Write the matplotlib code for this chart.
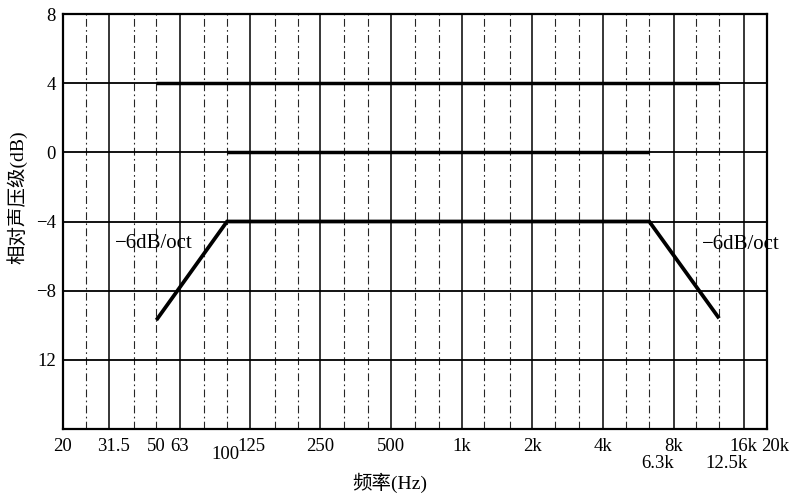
# 倍频程频率响应容差曲线 (relative sound pressure level vs frequency)
import matplotlib
matplotlib.use("Agg")
import matplotlib.pyplot as plt
import matplotlib.transforms as mtrans

SERIF = ['Liberation Serif', 'Noto Sans CJK SC']

# octave centre lines (solid) and the third-octave lines between them (broken)
octave_freqs = [31.5, 63, 125, 250, 500, 1000, 2000, 4000, 8000, 16000]
third_freqs = [25, 40, 50, 80, 100, 160, 200, 315, 400, 630, 800, 1250, 1600,
               2500, 3150, 5000, 6300, 10000, 12500]

# level grid
level_ticks = [8, 4, 0, -4, -8, -12]
level_labels = ['8', '4', '0', '\u22124', '\u22128', '12']

# frequency labels, first row and second row
row1_freqs = [20, 31.5, 50, 63, 100, 125, 250, 500, 1000, 2000, 4000, 8000, 16000, 20000]
row1_labels = ['20', '31.5', '50', '63', '100', '125', '250', '500', '1k', '2k', '4k',
               '8k', '16k', '20k']
row2_freqs = [6300, 12500]
row2_labels = ['6.3k', '12.5k']

# tolerance curves
upper_freq = [50, 12500]
upper_level = [4, 4]
mid_freq = [100, 6300]
mid_level = [0, 0]
lower_freq = [50, 100, 6300, 12500]
lower_level = [-9.7, -4, -4, -9.6]


fig = plt.figure(figsize=(7.91, 4.94), dpi=100)
ax = fig.add_axes([63 / 791, 65 / 494, 704 / 791, 415 / 494])
ax.set_xscale('log')
ax.set_xlim(20, 20000)
ax.set_ylim(-16, 8)

for f in octave_freqs:
    ax.axvline(f, color='black', lw=1.1, zorder=1)
for f in third_freqs:
    ax.axvline(f, color='0.15', lw=0.8, ls=(0, (7, 3, 1.5, 3)), zorder=1)
for lv in level_ticks:
    ax.axhline(lv, color='black', lw=1.3, zorder=1)

ax.plot(upper_freq, upper_level, color='black', lw=2.5, solid_capstyle='butt', zorder=3)
ax.plot(mid_freq, mid_level, color='black', lw=2.5, solid_capstyle='butt', zorder=3)
ax.plot(lower_freq, lower_level, color='black', lw=2.7, solid_capstyle='butt',
        solid_joinstyle='miter', zorder=3)

ax.text(33.4, -5.25, '\u22126dB/oct', fontsize=15, family=SERIF, ha='left', va='center')
ax.text(10600, -5.35, '\u22126dB/oct', fontsize=15, family=SERIF, ha='left', va='center',
        clip_on=False)

for sp in ax.spines.values():
    sp.set_linewidth(1.6)

ax.set_xticks([])
ax.set_yticks(level_ticks)
ax.set_yticklabels(level_labels, family=SERIF, fontsize=13.5)
ax.tick_params(axis='y', length=0, pad=5)
ax.minorticks_off()

trans = mtrans.blended_transform_factory(ax.transData, ax.transAxes)
nudge = {'31.5': 4, '100': -2, '125': 2, '16k': -1, '20k': 8, '6.3k': 8, '12.5k': 7}
for f, lab in zip(row1_freqs, row1_labels):
    dy = -0.04 if lab == '100' else -0.022
    t = mtrans.offset_copy(trans, fig=fig, x=nudge.get(lab, 0), units='dots')
    ax.text(f, dy, lab, transform=t, ha='center', va='top', family=SERIF, fontsize=13.5)
for f, lab in zip(row2_freqs, row2_labels):
    t = mtrans.offset_copy(trans, fig=fig, x=nudge.get(lab, 0), units='dots')
    ax.text(f, -0.062, lab, transform=t, ha='center', va='top', family=SERIF, fontsize=13.5)

fig.text(390 / 791, 1 - 483 / 494, '频率(Hz)', family=SERIF, fontsize=14,
         ha='center', va='center')
fig.text(17 / 791, 1 - 197 / 494, '相对声压级(dB)', family=SERIF, fontsize=14,
         rotation=90, ha='center', va='center')

fig.savefig('out.png', dpi=100)
